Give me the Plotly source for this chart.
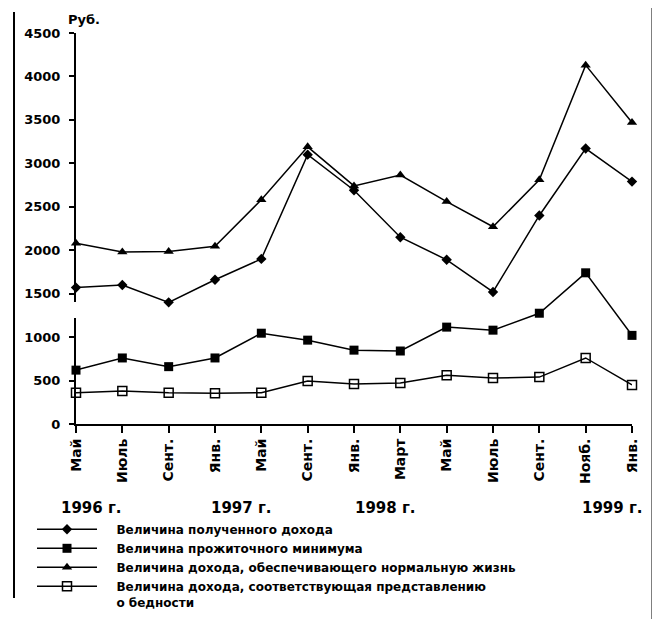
import plotly.graph_objects as go

# ---- data ----
month_labels = ["Май", "Июль", "Сент.", "Янв.", "Май", "Сент.", "Янв.",
                "Март", "Май", "Июль", "Сент.", "Нояб.", "Янв."]
year_labels = ["1996 г.", "1997 г.", "1998 г.", "1999 г."]
y_ticks = [0, 500, 1000, 1500, 2000, 2500, 3000, 3500, 4000, 4500]

income_received = [1570, 1600, 1400, 1660, 1900, 3100, 2690, 2150, 1890, 1520, 2400, 3170, 2790]
subsistence_min = [620, 760, 660, 760, 1045, 965, 850, 840, 1115, 1080, 1275, 1740, 1020]
income_normal = [2080, 1980, 1985, 2045, 2580, 3190, 2740, 2865, 2560, 2270, 2810, 4130, 3470]
income_poverty = [360, 380, 360, 355, 360, 495, 460, 472, 560, 530, 540, 760, 450]

series_names = [
    "Величина полученного дохода",
    "Величина прожиточного минимума",
    "Величина дохода, обеспечивающего нормальную жизнь",
    "Величина дохода, соответствующая представлению<br>о бедности",
]

x_idx = list(range(len(month_labels)))

# plot area in screenshot pixels (page body has an 8px default margin)
OFF = 8
L, R, T, B = 76, 632, 33, 424
W, H = 660, 619
def px(x):
    return (x - L) / (R - L)
def py(y):
    return (B - y) / (B - T)

FAM = "DejaVu Sans"

fig = go.Figure()
styles = [
    (income_received, dict(symbol="diamond", size=8, color="black")),
    (subsistence_min, dict(symbol="square", size=9, color="black")),
    (income_normal, dict(symbol="triangle-up", size=9, color="black")),
    (income_poverty, dict(symbol="square-open", size=9, color="black", line=dict(width=1.5, color="black"))),
]
pad = "\u2003\u2009"
for (vals, mk), name in zip(styles, series_names):
    label = pad + name.replace("<br>", "<br>" + pad)
    fig.add_trace(go.Scatter(
        x=x_idx, y=vals, name=label, mode="lines+markers",
        line=dict(color="black", width=1.5),
        marker=mk, cliponaxis=False,
    ))

fnt = dict(family=FAM, size=12, color="black", weight="bold")

fig.update_layout(
    width=W, height=H,
    margin=dict(l=L - OFF, r=W - (R - OFF), t=T - OFF, b=H - (B - OFF), autoexpand=False),
    paper_bgcolor="white", plot_bgcolor="white",
    font=fnt,
    showlegend=True,
    legend=dict(
        x=px(32), y=py(515), xanchor="left", yanchor="top",
        font=dict(family=FAM, size=12, color="black", weight="bold"),
        itemwidth=60, tracegroupgap=0, bgcolor="rgba(0,0,0,0)",
        valign="top",
    ),
    xaxis=dict(
        range=[0, len(month_labels) - 1],
        tickmode="array", tickvals=x_idx, ticktext=month_labels,
        tickangle=-90, ticks="outside", ticklen=7, tickwidth=1.5, tickcolor="black",
        showline=True, linecolor="black", linewidth=2,
        showgrid=False, zeroline=False,
        tickfont=dict(family=FAM, size=14, color="black", weight="bold"),
    ),
    yaxis=dict(
        range=[0, 4500],
        tickmode="array", tickvals=y_ticks, ticktext=[str(v) for v in y_ticks],
        ticks="outside", ticklen=5, tickwidth=1.5, tickcolor="black",
        showline=True, linecolor="black", linewidth=2,
        showgrid=False, zeroline=False, ticklabelstandoff=6,
        tickfont=dict(family=FAM, size=13, color="black", weight="bold"),
    ),
)

annotations = [
    dict(text="Руб.", x=px(66), y=py(20), xanchor="left", yanchor="middle", size=13),
    dict(text=year_labels[0], x=px(91), y=py(508)),
    dict(text=year_labels[1], x=px(241), y=py(508)),
    dict(text=year_labels[2], x=px(385), y=py(508)),
    dict(text=year_labels[3], x=px(612), y=py(508)),
]
for a in annotations:
    sz = a.pop("size", 15)
    a.update(xref="paper", yref="paper", showarrow=False,
             font=dict(family=FAM, size=sz, color="black", weight="bold"))
    a.setdefault("xanchor", "center")
    a.setdefault("yanchor", "middle")
fig.update_layout(annotations=annotations)

shapes = [
    # top frame line
    dict(type="line", x0=px(12), x1=px(652), y0=py(7), y1=py(7), line=dict(color="black", width=2)),
    # left thin frame line
    dict(type="line", x0=px(14), x1=px(14), y0=py(12), y1=py(598), line=dict(color="black", width=2)),
    # right thick frame line
    dict(type="line", x0=px(655), x1=px(655), y0=py(6), y1=py(619), line=dict(color="black", width=7)),
    # gap in y-axis line
    dict(type="rect", x0=px(73), x1=px(79), y0=py(318), y1=py(302), fillcolor="white", line=dict(width=0), layer="above"),
]
for s in shapes:
    s.update(xref="paper", yref="paper")
fig.update_layout(shapes=shapes)

fig.write_html("out.html")
